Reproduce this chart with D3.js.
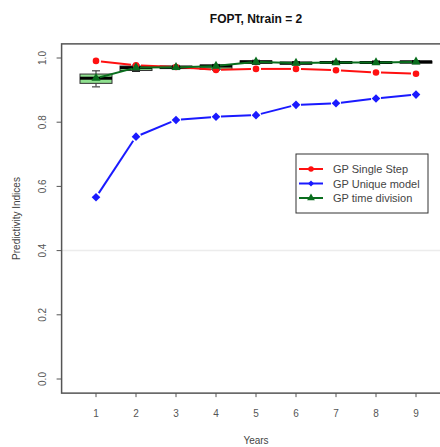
<!DOCTYPE html>
<html>
<head>
<meta charset="utf-8">
<script src="https://cdn.jsdelivr.net/npm/d3@7"></script>
<style>
  html, body { margin: 0; padding: 0; background: #fff; }
  svg { display: block; font-family: "Liberation Sans", Arial, sans-serif; }
</style>
</head>
<body>
<svg id="chart" width="440" height="447"></svg>
<script>
// Predictivity indices per forecast year
const years = [1, 2, 3, 4, 5, 6, 7, 8, 9];
const singleStep = [0.991, 0.977, 0.972, 0.963, 0.966, 0.966, 0.962, 0.955, 0.951];
const uniqueModel = [0.566, 0.755, 0.807, 0.817, 0.822, 0.854, 0.859, 0.874, 0.886];
// time-division model: box-plot summary (whisker low, Q1, median, Q3, whisker high)
const tdLow = [0.910, 0.958, 0.964, 0.962, 0.980, 0.978, 0.981, 0.981, 0.982];
const tdQ1 = [0.921, 0.961, 0.967, 0.965, 0.983, 0.981, 0.983, 0.983, 0.984];
const tdMedian = [0.937, 0.970, 0.971, 0.975, 0.988, 0.984, 0.986, 0.986, 0.988];
const tdQ3 = [0.950, 0.975, 0.975, 0.978, 0.991, 0.987, 0.989, 0.989, 0.990];
const tdHigh = [0.960, 0.978, 0.977, 0.980, 0.993, 0.989, 0.991, 0.991, 0.992];
const yTicks = [0.0, 0.2, 0.4, 0.6, 0.8, 1.0];
const legendLabels = ["GP Single Step", "GP Unique model", "GP time division"];

const svg = d3.select("#chart");
const x = d3.scaleLinear().domain([0.14, 9.86]).range([61.6, 450.4]);
const y = d3.scaleLinear().domain([0, 1]).range([379, 58]);
const yTop = y(1.044), yBot = y(-0.044);
const xLeft = x(0.14), xRight = x(9.86);

const axisColor = "#555";
const textColor = "#444";

// faint reference line
svg.append("line")
  .attr("x1", xLeft).attr("x2", xRight)
  .attr("y1", y(0.4)).attr("y2", y(0.4))
  .attr("stroke", "#ececec").attr("stroke-width", 1.5);

// box plots for the time-division model
const boxW = x(1.4) - x(1);
const bx = svg.append("g");
years.forEach((yr, i) => {
  const cx = x(yr);
  const g = bx.append("g");
  g.append("line").attr("x1", cx).attr("x2", cx)
    .attr("y1", y(tdHigh[i])).attr("y2", y(tdQ3[i]))
    .attr("stroke", "#222").attr("stroke-dasharray", "3,2");
  g.append("line").attr("x1", cx).attr("x2", cx)
    .attr("y1", y(tdQ1[i])).attr("y2", y(tdLow[i]))
    .attr("stroke", "#222").attr("stroke-dasharray", "3,2");
  [tdHigh[i], tdLow[i]].forEach(v => {
    g.append("line").attr("x1", cx - boxW / 4).attr("x2", cx + boxW / 4)
      .attr("y1", y(v)).attr("y2", y(v)).attr("stroke", "#222");
  });
  g.append("rect")
    .attr("x", cx - boxW).attr("width", 2 * boxW)
    .attr("y", y(tdQ3[i])).attr("height", y(tdQ1[i]) - y(tdQ3[i]))
    .attr("fill", "#8fe08f").attr("stroke", "#333").attr("stroke-width", 1);
  g.append("line").attr("x1", cx - boxW).attr("x2", cx + boxW)
    .attr("y1", y(tdMedian[i])).attr("y2", y(tdMedian[i]))
    .attr("stroke", "#000").attr("stroke-width", 3);
});

// line drawn with gaps around each point
function gappedLine(vals, color, gap) {
  const g = svg.append("g");
  for (let i = 0; i < vals.length - 1; i++) {
    const x1 = x(years[i]), y1 = y(vals[i]);
    const x2 = x(years[i + 1]), y2 = y(vals[i + 1]);
    const len = Math.hypot(x2 - x1, y2 - y1);
    const ux = (x2 - x1) / len, uy = (y2 - y1) / len;
    g.append("line")
      .attr("x1", x1 + ux * gap).attr("y1", y1 + uy * gap)
      .attr("x2", x2 - ux * gap).attr("y2", y2 - uy * gap)
      .attr("stroke", color).attr("stroke-width", 2);
  }
  return g;
}

const red = "#ff1010", blue = "#1a1aff", green = "#0a6e1e";

gappedLine(singleStep, red, 5);
gappedLine(uniqueModel, blue, 5);
gappedLine(tdMedian, green, 4);

const circle = d3.symbol().type(d3.symbolCircle).size(34);
const triangle = d3.symbol().type(d3.symbolTriangle).size(36);
// square turned on its corner, same width as height
const diamond = "M0,-4.3L4.3,0L0,4.3L-4.3,0Z";

function points(vals, sym, color) {
  svg.append("g").selectAll("path").data(vals).join("path")
    .attr("d", sym)
    .attr("transform", (d, i) => `translate(${x(years[i])},${y(d)})`)
    .attr("fill", color);
}
points(singleStep, circle, red);
points(uniqueModel, diamond, blue);
points(tdMedian, triangle, green);

// plot frame
svg.append("rect")
  .attr("x", xLeft).attr("y", yTop)
  .attr("width", xRight - xLeft).attr("height", yBot - yTop)
  .attr("fill", "none").attr("stroke", "#555").attr("stroke-width", 1.5);

// y axis
const yAxis = svg.append("g");
yTicks.forEach(t => {
  yAxis.append("line").attr("x1", xLeft - 5).attr("x2", xLeft)
    .attr("y1", y(t)).attr("y2", y(t)).attr("stroke", axisColor);
  yAxis.append("text")
    .attr("transform", `translate(46,${y(t)}) rotate(-90)`)
    .attr("text-anchor", "middle")
    .attr("font-size", 10).attr("fill", axisColor)
    .text(d3.format(".1f")(t));
});

// x axis
const xAxis = svg.append("g");
years.forEach(t => {
  xAxis.append("line").attr("x1", x(t)).attr("x2", x(t))
    .attr("y1", yBot).attr("y2", yBot + 4).attr("stroke", axisColor);
  xAxis.append("text")
    .attr("x", x(t)).attr("y", yBot + 24)
    .attr("text-anchor", "middle")
    .attr("font-size", 10).attr("fill", axisColor)
    .text(t);
});

// titles
svg.append("text")
  .attr("x", 256).attr("y", 23)
  .attr("text-anchor", "middle")
  .attr("font-size", 12).attr("font-weight", "bold").attr("fill", "#111")
  .text("FOPT, Ntrain = 2");
svg.append("text")
  .attr("x", 256).attr("y", 444)
  .attr("text-anchor", "middle")
  .attr("font-size", 10).attr("fill", textColor)
  .text("Years");
svg.append("text")
  .attr("transform", `translate(20,${(yTop + yBot) / 2}) rotate(-90)`)
  .attr("text-anchor", "middle")
  .attr("font-size", 10).attr("fill", textColor)
  .text("Predictivity Indices");

// legend
const legend = svg.append("g");
legend.append("rect")
  .attr("x", 296).attr("y", 154).attr("width", 132).attr("height", 59)
  .attr("fill", "#fff").attr("stroke", "#333").attr("stroke-width", 1);
const legendColors = [red, blue, green];
const legendSyms = [
  d3.symbol().type(d3.symbolCircle).size(24)(),
  "M0,-3L3,0L0,3L-3,0Z",
  d3.symbol().type(d3.symbolTriangle).size(26)()
];
legendLabels.forEach((lab, i) => {
  const ly = 169 + i * 14.5;
  legend.append("line").attr("x1", 299).attr("x2", 323)
    .attr("y1", ly).attr("y2", ly)
    .attr("stroke", legendColors[i]).attr("stroke-width", 2);
  legend.append("path").attr("d", legendSyms[i])
    .attr("transform", `translate(311,${ly})`)
    .attr("fill", legendColors[i]);
  legend.append("text")
    .attr("x", 333).attr("y", ly + 4)
    .attr("font-size", 11).attr("fill", textColor)
    .text(lab);
});
</script>
</body>
</html>
